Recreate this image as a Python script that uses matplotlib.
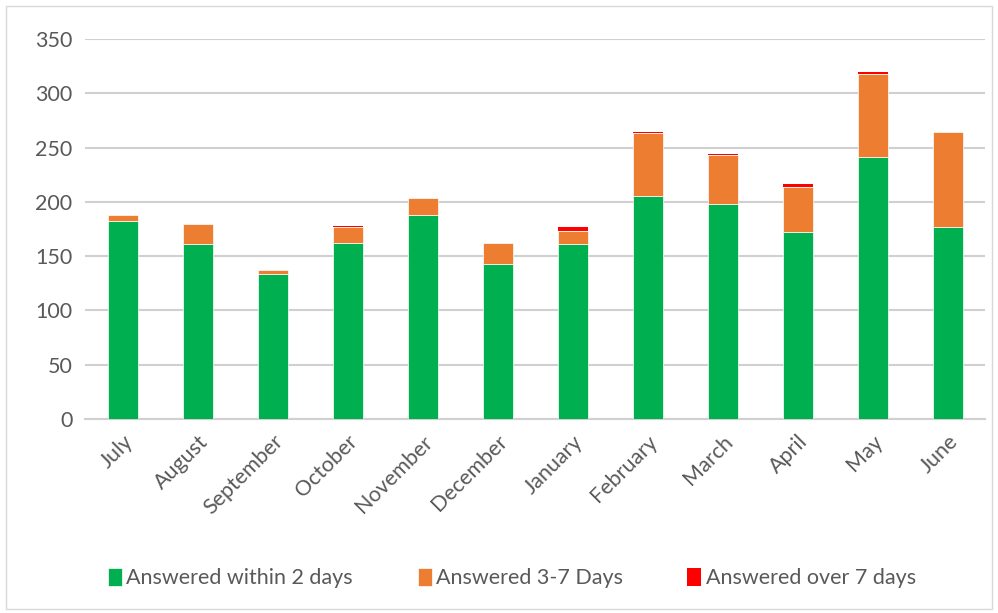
import numpy as np
import matplotlib.pyplot as plt

months = ['July', 'August', 'September', 'October', 'November', 'December',
          'January', 'February', 'March', 'April', 'May', 'June']
within_2 = [182, 161, 134, 162, 188, 143, 161, 205, 198, 172, 241, 177]
days_3_7 = [6, 19, 3, 15, 16, 19, 12, 58, 45, 42, 77, 87]
over_7 = [0, 0, 0, 1, 0, 0, 4, 1, 1, 2, 2, 0]

plt.rcParams['font.family'] = ['Lato', 'DejaVu Sans']

fig = plt.figure(figsize=(9.98, 6.13), dpi=100)
ax = fig.add_axes([85 / 998, 1 - 419 / 613, 900 / 998, 380 / 613])

x = np.arange(len(months))
w = 0.4
b1 = np.array(within_2)
b2 = b1 + np.array(days_3_7)
ax.bar(x, within_2, w, color='#00b050', edgecolor='white', linewidth=0.5,
       label='Answered within 2 days', zorder=3)
ax.bar(x, days_3_7, w, bottom=b1, color='#ed7d31', edgecolor='white', linewidth=0.5,
       label='Answered 3-7 Days', zorder=3)
ax.bar(x, over_7, w, bottom=b2, color='#ff0000', edgecolor='none',
       label='Answered over 7 days', zorder=3)

ax.set_xlim(-0.5, 11.5)
ax.set_ylim(0, 350)
ax.set_yticks(range(0, 351, 50))
ax.yaxis.grid(True, color='#d0d0d0', linewidth=1.5, zorder=0)
for s in ['top', 'right', 'left']:
    ax.spines[s].set_visible(False)
ax.spines['bottom'].set_color('#d0d0d0')
ax.spines['bottom'].set_linewidth(1.5)
ax.tick_params(axis='both', length=0, labelsize=15.5, colors='#595959', pad=9)
ax.set_xticks(x)
ax.set_xticklabels(months, rotation=45, ha='right', rotation_mode='anchor')

fig.legend(loc='center', bbox_to_anchor=(0.513, 1 - 578 / 613), ncol=3, frameon=False,
           fontsize=15.5, labelcolor='#595959', handlelength=0.65, handleheight=0.9,
           handletextpad=0.2, columnspacing=3.0)

# chart border
fig.patches.append(plt.Rectangle((0.006, 0.006), 0.988, 0.985, transform=fig.transFigure,
                                 fill=False, edgecolor='#d9d9d9', linewidth=1))

fig.savefig('out.png', dpi=100)
